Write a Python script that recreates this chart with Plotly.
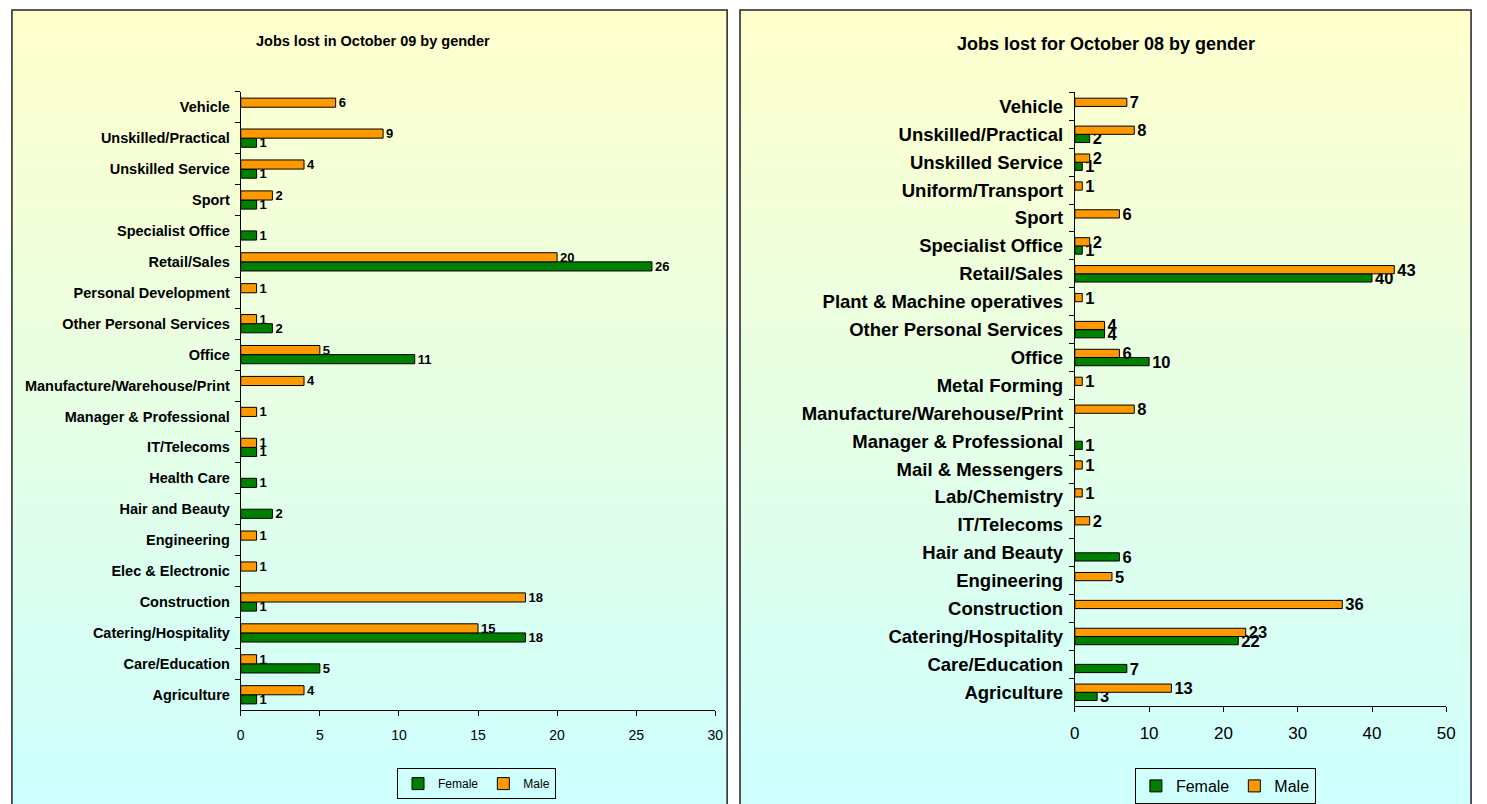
import plotly.graph_objects as go

# ---------------- data ----------------
cats09 = ["Agriculture", "Care/Education", "Catering/Hospitality", "Construction",
          "Elec & Electronic", "Engineering", "Hair and Beauty", "Health Care",
          "IT/Telecoms", "Manager & Professional", "Manufacture/Warehouse/Print",
          "Office", "Other Personal Services", "Personal Development", "Retail/Sales",
          "Specialist Office", "Sport", "Unskilled Service", "Unskilled/Practical", "Vehicle"]
female09 = [1, 5, 18, 1, None, None, 2, 1, 1, None, None, 11, 2, None, 26, 1, 1, 1, 1, None]
male09 = [4, 1, 15, 18, 1, 1, None, None, 1, 1, 4, 5, 1, 1, 20, None, 2, 4, 9, 6]

cats08 = ["Agriculture", "Care/Education", "Catering/Hospitality", "Construction",
          "Engineering", "Hair and Beauty", "IT/Telecoms", "Lab/Chemistry",
          "Mail & Messengers", "Manager & Professional", "Manufacture/Warehouse/Print",
          "Metal Forming", "Office", "Other Personal Services", "Plant & Machine operatives",
          "Retail/Sales", "Specialist Office", "Sport", "Uniform/Transport",
          "Unskilled Service", "Unskilled/Practical", "Vehicle"]
female08 = [3, 7, 22, None, None, 6, None, None, None, 1, None, None, 10, 4, None, 40, 1,
            None, None, 1, 2, None]
male08 = [13, None, 23, 36, 5, None, 2, 1, 1, None, 8, 1, 6, 4, 1, 43, 2, 6, 1, 2, 8, 7]

title09 = "Jobs lost in October 09 by gender"
title08 = "Jobs lost for October 08 by gender"
ticks09 = [0, 5, 10, 15, 20, 25, 30]
ticks08 = [0, 10, 20, 30, 40, 50]

# ---------------- layout helpers ----------------
W, H = 1487, 804
def px(x):
    return x / W
def py(y):
    return 1 - y / H

GREEN = "#008000"
ORANGE = "#FF9900"
FONT = "Liberation Sans, Arial, sans-serif"

fig = go.Figure()

def txt(vals):
    return [("" if v is None else str(v)) for v in vals]

def bar(cats, vals, name, color, size, xa, ya, lg):
    return go.Bar(y=cats, x=vals, orientation="h", name=name,
                  marker=dict(color=color, line=dict(color="black", width=1)),
                  text=txt(vals), textposition="outside", constraintext="none",
                  cliponaxis=False,
                  textfont=dict(family=FONT, size=size, color="black", weight="bold"),
                  xaxis=xa, yaxis=ya, legend=lg)

fig.add_trace(bar(cats09, female09, "Female", GREEN, 13, "x", "y", "legend"))
fig.add_trace(bar(cats09, male09, "Male", ORANGE, 13, "x", "y", "legend"))
fig.add_trace(bar(cats08, female08, "Female", GREEN, 16.5, "x2", "y2", "legend2"))
fig.add_trace(bar(cats08, male08, "Male", ORANGE, 16.5, "x2", "y2", "legend2"))

# ---------------- background gradient + borders ----------------
shapes = []
top_c = (255, 255, 204)
bot_c = (204, 255, 255)
N = 80
for (x0, x1) in [(7, 729), (742, 1480)]:
    y0p, y1p = 10, 830
    for i in range(N):
        t = (i + 0.5) / N
        c = tuple(int(round(top_c[k] + (bot_c[k] - top_c[k]) * t)) for k in range(3))
        ya = y0p + (y1p - y0p) * i / N
        yb = y0p + (y1p - y0p) * (i + 1) / N + 0.6
        shapes.append(dict(type="rect", xref="paper", yref="paper", layer="below",
                           x0=px(x0), x1=px(x1), y0=py(yb), y1=py(ya),
                           fillcolor="rgb(%d,%d,%d)" % c, line=dict(width=0)))
    shapes.append(dict(type="rect", xref="paper", yref="paper", layer="above",
                       x0=px(x0), x1=px(x1), y0=py(y1p), y1=py(y0p),
                       fillcolor="rgba(0,0,0,0)", line=dict(color="#222", width=1.5)))

annotations = [
    dict(text=title09, x=px(372), y=py(41), xref="paper", yref="paper",
         showarrow=False, font=dict(family=FONT, size=14.5, color="black", weight="bold"),
         xanchor="center", yanchor="middle"),
    dict(text=title08, x=px(1111), y=py(44), xref="paper", yref="paper",
         showarrow=False, font=dict(family=FONT, size=18, color="black", weight="bold"),
         xanchor="center", yanchor="middle"),
]

axis_common = dict(showgrid=False, zeroline=False, showline=True, linecolor="black",
                   linewidth=1, ticks="outside", ticklen=5, tickcolor="black",
                   fixedrange=True)

fig.update_layout(
    width=W, height=H,
    margin=dict(l=0, r=0, t=0, b=0),
    paper_bgcolor="white", plot_bgcolor="rgba(0,0,0,0)",
    barmode="group", bargap=0.41, bargroupgap=0,
    shapes=shapes, annotations=annotations,
    xaxis=dict(domain=[px(238), px(717)], range=[0, 30], tickvals=ticks09,
               anchor="y", tickfont=dict(family=FONT, size=14, color="black"),
               ticklabelstandoff=7, **axis_common),
    yaxis=dict(domain=[py(712), py(92)], anchor="x", type="category",
               categoryorder="array", categoryarray=cats09, tickson="boundaries",
               tickfont=dict(family=FONT, size=14.5, color="black", weight="bold"),
               ticklabelstandoff=7, **axis_common),
    xaxis2=dict(domain=[px(1080), px(1455)], range=[0, 50], tickvals=ticks08,
                anchor="y2", tickfont=dict(family=FONT, size=17, color="black"),
                ticklabelstandoff=6, **axis_common),
    yaxis2=dict(domain=[py(708), py(92.7)], anchor="x2", type="category",
                categoryorder="array", categoryarray=cats08, tickson="boundaries",
                tickfont=dict(family=FONT, size=18.5, color="black", weight="bold"),
                ticklabelstandoff=7, **axis_common),
    legend=dict(orientation="h", x=px(476), y=py(770), xanchor="center", yanchor="top",
                bgcolor="rgba(0,0,0,0)", bordercolor="black", borderwidth=1,
                font=dict(family=FONT, size=12, color="black"), itemwidth=30,
                traceorder="normal"),
    legend2=dict(orientation="h", x=px(1232), y=py(770), xanchor="center", yanchor="top",
                 bgcolor="rgba(0,0,0,0)", bordercolor="black", borderwidth=1,
                 font=dict(family=FONT, size=16, color="black"), itemwidth=30,
                 traceorder="normal"),
    showlegend=True,
)

fig.write_html("out.html", config={"displayModeBar": False},
               post_script="document.body.style.margin='0';document.body.style.overflow='hidden';")
